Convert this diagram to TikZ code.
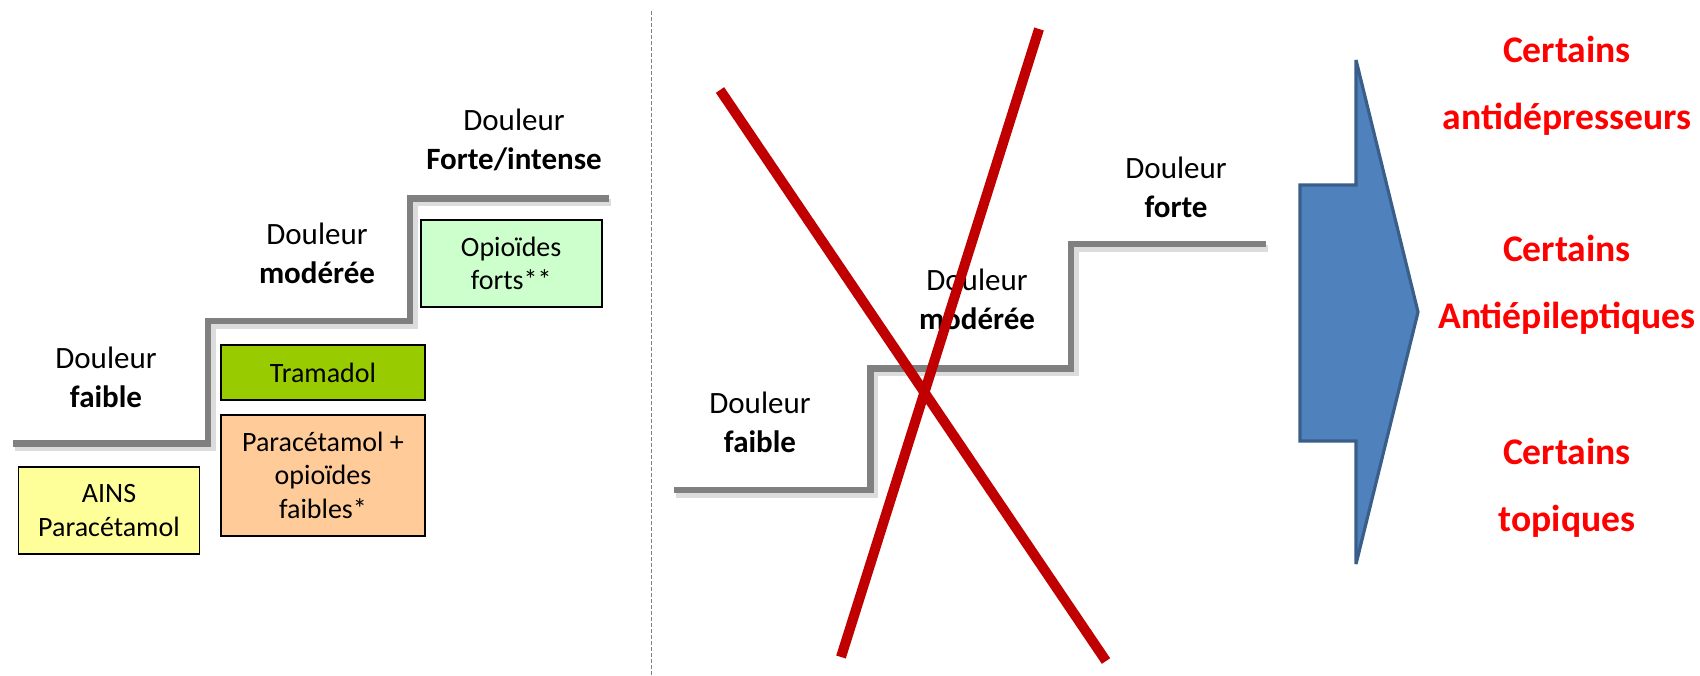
\documentclass[tikz,border=0pt]{standalone}
\usepackage{fontspec}
\setmainfont{Carlito}
\definecolor{stairgray}{RGB}{128,128,128}
\definecolor{crossred}{RGB}{192,0,0}
\definecolor{arrowfill}{RGB}{79,129,189}
\definecolor{arrowdraw}{RGB}{58,94,138}
\definecolor{yellowbox}{RGB}{255,255,153}
\definecolor{tramgreen}{RGB}{153,204,0}
\definecolor{peach}{RGB}{255,204,153}
\definecolor{mint}{RGB}{204,255,204}
\definecolor{textred}{RGB}{255,0,0}
\begin{document}
\begin{tikzpicture}[x=0.5pt,y=-0.5pt,
  stair/.style={line width=3.25pt, draw=stairgray, line join=miter},
  stairshadow/.style={line width=3.5pt, draw=black!30, opacity=0.45},
  lbl/.style={align=center, font=\fontsize{15.5}{19.5}\selectfont, inner sep=0pt},
  box/.style={draw=black, line width=0.9pt, align=center, font=\fontsize{14}{16.8}\selectfont, inner sep=0pt},
  redlbl/.style={align=center, text=textred, font=\bfseries\fontsize{18.8}{33.5}\selectfont, inner sep=0pt},
  cross/.style={line width=5pt, draw=crossred},
  sep/.style={draw=gray, line width=0.5pt, dash pattern=on 2pt off 1pt}
]
\useasboundingbox (0,0) rectangle (1700,675);

% separator
\coordinate (s1) at (651.6,11);
\coordinate (s2) at (651.6,675);
\draw[sep] (s1) -- (s2);

% left staircase
\draw[stairshadow] (15,447.5) -- (212,447.5) -- (212,325) -- (414,325) -- (414,202.5) -- (611,202.5);
\draw[stair] (13,443.4) -- (208,443.4) -- (208,321) -- (410,321) -- (410,198.4) -- (609,198.4);

\node[lbl] (lf) at (106,377.5) {Douleur\\\textbf{faible}};
\node[lbl] (lm) at (317,253.5) {Douleur\\\textbf{modérée}};
\node[lbl] (li) at (514,139.5) {Douleur\\\textbf{Forte/intense}};

\node[box, fill=yellowbox, minimum width=90.5pt, minimum height=43.5pt] (ains) at (109,510.5) {AINS\\Paracétamol};
\node[box, fill=tramgreen, minimum width=102pt, minimum height=27.5pt] (tram) at (323,372.5) {Tramadol};
\node[box, fill=peach, minimum width=102pt, minimum height=60.3pt] (para) at (323,475.3) {Paracétamol +\\opioïdes\\faibles*};
\node[box, fill=mint, minimum width=90.5pt, minimum height=43.4pt] (opio) at (511.2,263.4) {Opioïdes\\forts**};

% right staircase
\draw[stairshadow] (676,494) -- (874.6,494) -- (874.6,372.6) -- (1075,372.6) -- (1075,248) -- (1268,248);
\draw[stair] (674,490) -- (870.6,490) -- (870.6,368.6) -- (1071,368.6) -- (1071,244) -- (1266,244);

\node[lbl] (rf) at (760,422.5) {Douleur\\\textbf{faible}};
\node[lbl] (rm) at (977,299.5) {Douleur\\\textbf{modérée}};
\node[lbl] (rs) at (1176,187) {Douleur\\\textbf{forte}};

% red cross
\coordinate (c1a) at (720,90);
\coordinate (c1b) at (1106,661);
\coordinate (c2a) at (1039,29);
\coordinate (c2b) at (841,657);
\draw[cross] (c1a) -- (c1b);
\draw[cross] (c2a) -- (c2b);

% blue arrow
\draw[fill=arrowfill, draw=arrowdraw, line width=1.6pt, line join=miter, miter limit=2]
  (1300,185) -- (1356,185) -- (1356,60) -- (1418,312) -- (1356,564) -- (1356,441) -- (1300,441) -- cycle;

\node[redlbl] (t1) at (1567,85.5) {Certains\\antidépresseurs};
\node[redlbl] (t2) at (1567,285) {Certains\\Antiépileptiques};
\node[redlbl] (t3) at (1567,488) {Certains\\topiques};
\end{tikzpicture}
\end{document}
